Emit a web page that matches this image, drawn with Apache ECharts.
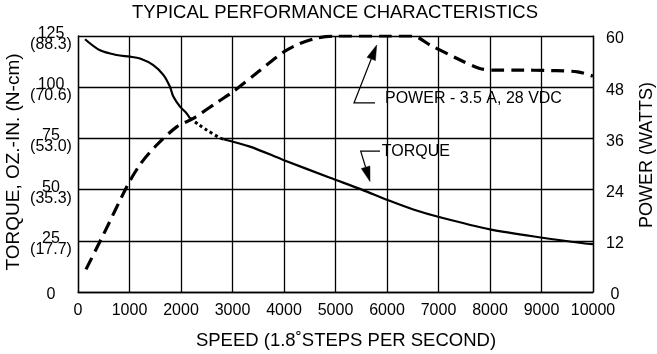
<!DOCTYPE html>
<html>
<head>
<meta charset="utf-8">
<script src="https://cdn.jsdelivr.net/npm/echarts@6/dist/echarts.min.js"></script>
<style>
html,body{margin:0;padding:0;background:#fff;}
#c{width:657px;height:354px;}
</style>
</head>
<body>
<div id="c"></div>
<script>
// ---- data ----
const speedTicks = [0,1000,2000,3000,4000,5000,6000,7000,8000,9000,10000];
const torqueTicks = [0,25,50,75,100,125];
const ncmTicks = ['', '(17.7)', '(35.3)', '(53.0)', '(70.6)', '(88.3)'];
const powerTicks = [0,12,24,36,48,60];

const torqueSpeedA = [136, 427, 751, 1010, 1204, 1462, 1657, 1786, 1851, 1981, 2110, 2175];
const torqueValA   = [123.4, 118, 115.7, 114.9, 114, 110.8, 106, 100.2, 95.4, 90.5, 87.2, 84.8];
const torqueSpeedDot = [2175, 2350, 2499, 2757, 2822];
const torqueValDot   = [84.8, 81.6, 79.1, 75.2, 74.6];
const torqueSpeedB = [2822, 3340, 3987, 4893, 5510, 6013, 6511, 7029, 8000, 9016, 9812, 10000];
const torqueValB   = [74.6, 71, 64.5, 55.8, 50, 44.9, 40.3, 36.5, 30.6, 26.5, 23.8, 23.4];

const powerSpeed = [155, 500, 945, 1200, 1500, 1916, 2240, 2720, 3016, 3500, 4000, 4300, 4635, 5000, 6000, 6500, 6835, 7350, 7800, 8100, 8500, 9200, 9700, 10000];
const powerVal   = [5.3, 13.6, 24.6, 29.8, 34.1, 38.7, 40.7, 44.6, 47.0, 51.6, 56.3, 58.2, 59.5, 60, 60, 60, 57.9, 54.8, 52.4, 52.0, 52.0, 51.9, 51.6, 50.6];

// annotation anchors (speed, torque-axis units)
const powerArrowPts  = [[5767, 92.3], [5359, 92.3], [5800, 120.6]];
const powerLabelPos  = [5961, 94.2];
const powerLabel     = 'POWER - 3.5 A, 28 VDC';
const torqueArrowPts = [[5864, 68.8], [5489, 68.8], [5670, 53.9]];
const torqueLabelPos = [5897, 68.8];
const torqueLabel    = 'TORQUE';

const titleText = 'TYPICAL PERFORMANCE CHARACTERISTICS';
const xTitle = 'SPEED (1.8\u02DASTEPS PER SECOND)';
const yLeftTitle = 'TORQUE, OZ.-IN. (N-cm)';
const yRightTitle = 'POWER (WATTS)';

const zip = (a, b) => a.map((v, i) => [v, b[i]]);
const FONT = 'Liberation Sans, Arial, Helvetica, sans-serif';

const chart = echarts.init(document.getElementById('c'), null, {renderer: 'canvas'});
const gridLine = {show: true, lineStyle: {color: '#000', width: 1.3}};

chart.setOption({
  animation: false,
  backgroundColor: '#fff',
  grid: {left: 78, right: 64, top: 36, bottom: 62, containLabel: false},
  xAxis: {
    type: 'value', min: 0, max: 10000, interval: 1000,
    axisLine: {show: true, lineStyle: {color: '#000', width: 1.3}},
    axisTick: {show: false},
    splitLine: gridLine,
    axisLabel: {color: '#000', fontSize: 16, fontFamily: FONT, margin: 11,
      formatter: v => String(speedTicks[Math.round(v / 1000)])}
  },
  yAxis: [{
    type: 'value', min: 0, max: 125, interval: 25, position: 'left',
    axisLine: {show: true, lineStyle: {color: '#000', width: 1.3}},
    axisTick: {show: false},
    splitLine: gridLine,
    axisLabel: {color: '#000', fontSize: 16, fontFamily: FONT, margin: 27, align: 'center',
      lineHeight: 11,
      rich: {s: {fontSize: 4, lineHeight: 6}},
      formatter: v => {
        const i = torqueTicks.indexOf(v);
        return ncmTicks[i] ? '{s| }\n' + torqueTicks[i] + '\n' + ncmTicks[i] : '{s| }\n' + torqueTicks[i];
      }}
  }, {
    type: 'value', min: 0, max: 60, interval: 12, position: 'right',
    axisLine: {show: true, lineStyle: {color: '#000', width: 1.3}},
    axisTick: {show: false},
    splitLine: {show: false},
    axisLabel: {color: '#000', fontSize: 16, fontFamily: FONT, margin: 22, align: 'center',
      lineHeight: 16,
      rich: {s: {fontSize: 4, lineHeight: 6}},
      formatter: v => '{s| }\n' + powerTicks[powerTicks.indexOf(v)]}
  }],
  series: [{
    type: 'line', name: 'torqueA', yAxisIndex: 0, data: zip(torqueSpeedA, torqueValA),
    showSymbol: false, smooth: 0.3, lineStyle: {color: '#000', width: 2.2}
  }, {
    type: 'line', name: 'torqueDot', yAxisIndex: 0, data: zip(torqueSpeedDot, torqueValDot),
    showSymbol: false, smooth: 0.3, lineStyle: {color: '#000', width: 3, type: [3, 3]}
  }, {
    type: 'line', name: 'torqueB', yAxisIndex: 0, data: zip(torqueSpeedB, torqueValB),
    showSymbol: false, smooth: 0.3, lineStyle: {color: '#000', width: 2.2}
  }, {
    type: 'line', name: 'power', yAxisIndex: 1, data: zip(powerSpeed, powerVal),
    showSymbol: false, smooth: 0.3, lineStyle: {color: '#000', width: 3.2, type: [13, 7]}
  }]
});

function px(p) { return chart.convertToPixel({xAxisIndex: 0, yAxisIndex: 0}, p); }
function arrowGraphics(pts) {
  const P = pts.map(px);
  const tip = P[P.length - 1], prev = P[P.length - 2];
  const dx = tip[0] - prev[0], dy = tip[1] - prev[1];
  const L = Math.hypot(dx, dy), ux = dx / L, uy = dy / L;
  const hl = 15, hw = 4.5;
  const bx = tip[0] - ux * hl, by = tip[1] - uy * hl;
  return [{
    type: 'polyline', shape: {points: P.slice(0, -1).concat([[bx, by]])},
    style: {stroke: '#000', lineWidth: 1.2, fill: null}
  }, {
    type: 'polygon', shape: {points: [tip, [bx - uy * hw, by + ux * hw], [bx + uy * hw, by - ux * hw]]},
    style: {fill: '#000', stroke: '#000', lineWidth: 0.5}
  }];
}
function label(pos, text) {
  const p = px(pos);
  return {type: 'text', x: p[0], y: p[1],
    style: {text, fill: '#000', fontSize: 16, fontFamily: FONT, align: 'left', verticalAlign: 'middle'}};
}

chart.setOption({
  graphic: [
    {type: 'text', x: 335, y: 13, style: {text: titleText, fill: '#000', fontSize: 18.5, fontFamily: FONT, align: 'center', verticalAlign: 'middle'}},
    {type: 'text', x: 346, y: 341, style: {text: xTitle, fill: '#000', fontSize: 18.5, fontFamily: FONT, align: 'center', verticalAlign: 'middle'}},
    {type: 'text', x: 14, y: 162, rotation: Math.PI / 2, style: {text: yLeftTitle, fill: '#000', fontSize: 19, fontFamily: FONT, align: 'center', verticalAlign: 'middle'}},
    {type: 'text', x: 647, y: 155, rotation: Math.PI / 2, style: {text: yRightTitle, fill: '#000', fontSize: 18, fontFamily: FONT, align: 'center', verticalAlign: 'middle'}},
    ...arrowGraphics(powerArrowPts),
    ...arrowGraphics(torqueArrowPts),
    label(powerLabelPos, powerLabel),
    label(torqueLabelPos, torqueLabel)
  ]
});
</script>
</body>
</html>
